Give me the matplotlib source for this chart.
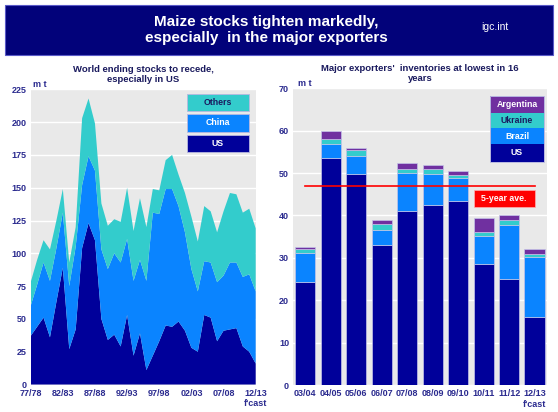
import numpy as np
import matplotlib
matplotlib.use('Agg')
from matplotlib import pyplot as plt
from matplotlib.patches import Rectangle, Circle, Ellipse

plt.rcParams['font.family'] = ['Liberation Sans', 'DejaVu Sans']

# world ending stocks, 77/78 .. 12/13 (m t)
seasons = ['77/78', '82/83', '87/88', '92/93', '97/98', '02/03', '07/08', "12/13\nf'cast"]
us_world = [37, 44, 51, 36, 63, 89, 27, 42, 104, 123, 110, 50, 34, 38, 29, 53, 22, 39,
            11, 22, 33, 45, 44, 48, 41, 28, 25, 53, 51, 33, 41, 42, 43, 29, 25, 16]
china_world = [23, 32, 42, 43, 41, 42, 48, 63, 48, 51, 53, 53, 54, 62, 64, 58, 57, 56,
               68, 109, 97, 104, 105, 88, 75, 60, 46, 41, 42, 45, 42, 51, 50, 53, 59, 55]
others_world = [18, 19, 17, 24, 21, 18, 18, 15, 51, 44, 36, 35, 33, 26, 31, 39, 38, 47,
                41, 18, 18, 22, 26, 24, 30, 40, 38, 42, 39, 38, 49, 53, 52, 49, 50, 48]

# major exporters stocks (m t)
exp_years = ['03/04', '04/05', '05/06', '06/07', '07/08', '08/09', '09/10', '10/11', '11/12', "12/13\nf'cast"]
exp_us = [24.2, 53.5, 49.8, 33.0, 41.1, 42.4, 43.3, 28.6, 25.0, 16.0]
exp_brazil = [7.0, 3.3, 4.2, 3.5, 8.9, 7.4, 5.5, 6.6, 12.8, 14.3]
exp_ukraine = [0.8, 1.3, 1.4, 1.4, 1.0, 1.1, 0.8, 0.9, 1.1, 0.6]
exp_argentina = [0.5, 1.8, 0.5, 1.0, 1.5, 0.9, 0.9, 3.4, 1.1, 1.3]
five_year_avg = 46.9

navy = '#00009A'
blue = '#0A84FF'
cyan = '#33CCCC'
purple = '#7030A0'
lab = '#2B2B8F'
bg = '#E9E9E9'

fig = plt.figure(figsize=(5.58, 4.12), dpi=100)

# header banner
fig.patches.append(Rectangle((0.009, 0.8665), 0.982, 0.1215, transform=fig.transFigure,
                             facecolor='#02027A', edgecolor='#5a5ac8', lw=0.8))
fig.text(0.478, 0.927, 'Maize stocks tighten markedly,\nespecially  in the major exporters',
         ha='center', va='center', color='white', fontsize=11, fontweight='bold', linespacing=1.15)
fig.text(0.887, 0.934, 'igc.int', ha='center', va='center', color='white', fontsize=7.5)

# logo
lg = fig.add_axes([6 / 558, 1 - 51 / 412, 45 / 558, 42 / 412])
lg.set_xlim(0, 1)
lg.set_ylim(0, 1)
lg.axis('off')
lg.add_patch(Rectangle((0, 0), 1, 1, facecolor='white', edgecolor='#8888aa', lw=0.6))
lg.add_patch(Circle((0.5, 0.45), 0.42, facecolor='#4a7fd8', edgecolor='none'))
for w in [0.12, 0.26, 0.4]:
    lg.add_patch(Ellipse((0.5, 0.45), w * 2, 0.84, facecolor='none', edgecolor='white', lw=0.5))
for h in [0.2, 0.35, 0.55, 0.7]:
    lg.plot([0.12, 0.88], [h, h], color='white', lw=0.5)
lg.text(0.5, 0.52, 'IGC 2012', ha='center', va='center', color='#ff1a1a', fontsize=5.5, fontweight='bold')


def style_axes(ax):
    ax.set_facecolor(bg)
    ax.set_axisbelow(True)
    ax.grid(axis='y', color='white', lw=1)
    for s in ax.spines.values():
        s.set_visible(False)
    ax.tick_params(length=0, labelsize=6.5, labelcolor=lab, pad=3)
    for t in ax.get_xticklabels() + ax.get_yticklabels():
        t.set_fontweight('bold')


# left chart
ax1 = fig.add_axes([0.055, 0.0667, 0.4032, 0.7165])
x = np.arange(len(us_world))
ax1.stackplot(x, us_world, china_world, others_world, colors=[navy, blue, cyan], lw=0)
ax1.set_xlim(0, 35)
ax1.set_ylim(0, 225)
ax1.set_yticks(range(0, 226, 25))
ax1.set_xticks(range(0, 36, 5))
ax1.set_xticklabels(seasons, va='top')
style_axes(ax1)
ax1.set_title('World ending stocks to recede,\nespecially in US', fontsize=6.8, fontweight='bold',
              color='#1a1a5e', pad=5)
ax1.text(0.01, 1.008, 'm t', transform=ax1.transAxes, fontsize=6.5, fontweight='bold', color=lab)

# left legend
leg1 = [('Others', cyan, '#1a1a5e', 221.8), ('China', blue, 'white', 206.3), ('US', navy, 'white', 190.5)]
for name, col, tc, top in leg1:
    ax1.add_patch(Rectangle((24.3, top - 13.5), 9.6, 13.5, facecolor=col, edgecolor='#b8b8e0', lw=0.6))
    ax1.text(29.1, top - 6.75, name, ha='center', va='center', fontsize=6.3, fontweight='bold', color=tc)

# right chart
ax2 = fig.add_axes([0.5256, 0.0655, 0.4541, 0.7201])
xb = np.arange(len(exp_years))
bot = np.zeros(len(xb))
for vals, col in [(exp_us, navy), (exp_brazil, blue), (exp_ukraine, cyan), (exp_argentina, purple)]:
    ax2.bar(xb, vals, 0.8, bottom=bot, color=col, edgecolor='#c4c4e8', lw=0.5)
    bot = bot + np.array(vals)
ax2.plot([0, 9], [five_year_avg, five_year_avg], color='#ff0000', lw=1.2)
ax2.set_xlim(-0.47, 9.47)
ax2.set_ylim(0, 70)
ax2.set_yticks(range(0, 71, 10))
ax2.set_xticks(xb)
ax2.set_xticklabels(exp_years, va='top')
style_axes(ax2)
ax2.set_title("Major exporters'  inventories at lowest in 16\nyears", fontsize=6.8, fontweight='bold',
              color='#1a1a5e', pad=5)
ax2.text(0.02, 1.008, 'm t', transform=ax2.transAxes, fontsize=6.5, fontweight='bold', color=lab)

# 5-year average tag
ax2.add_patch(Rectangle((6.6, 42.0), 2.4, 4.0, facecolor='#ff0000', edgecolor='#ffb0b0', lw=0.5))
ax2.text(7.8, 44.0, '5-year ave.', ha='center', va='center', fontsize=6.3, fontweight='bold', color='white')

# right legend, stacked swatches
leg2 = [('Argentina', purple, 'white'), ('Ukraine', cyan, '#1a1a5e'),
        ('Brazil', blue, 'white'), ('US', navy, 'white')]
edges = [68.2, 64.1, 60.6, 56.9, 52.7]
for k, (name, col, tc) in enumerate(leg2):
    h = edges[k] - edges[k + 1]
    ax2.add_patch(Rectangle((7.23, edges[k + 1]), 2.15, h, facecolor=col, edgecolor='none'))
    ax2.text(8.305, edges[k + 1] + h / 2, name, ha='center', va='center', fontsize=6.3,
             fontweight='bold', color=tc)
ax2.add_patch(Rectangle((7.23, 52.7), 2.15, 15.5, facecolor='none', edgecolor='#b8b8e0', lw=0.7))

fig.savefig('out.png', dpi=100)
